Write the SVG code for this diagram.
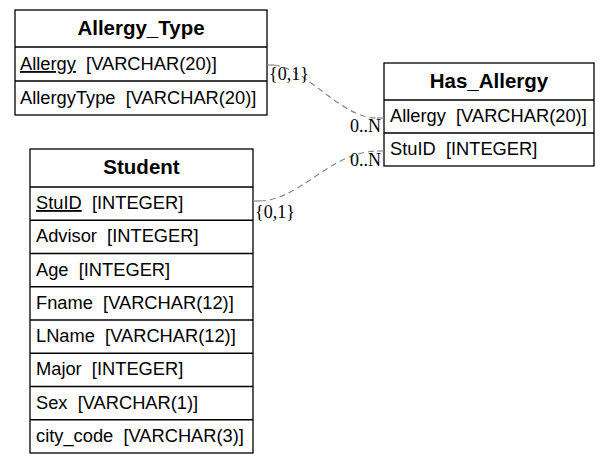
<svg xmlns="http://www.w3.org/2000/svg" width="612" height="464" viewBox="0 0 612 464">
<style>
.box{fill:#fff;stroke:#000;stroke-width:1.3}
.sep{stroke:#000;stroke-width:1.3}
.hdr{font-family:"Liberation Sans",Arial,sans-serif;font-weight:bold;font-size:20.5px;text-anchor:middle;fill:#000}
.row{font-family:"Liberation Sans",Arial,sans-serif;font-size:18.3px;fill:#000}
.pk{text-decoration:underline}
.edge{fill:none;stroke:#888;stroke-width:1.2;stroke-dasharray:6,4}
.tick{fill:none;stroke:#888;stroke-width:1.2}
.lbl{font-family:"Liberation Serif","Times New Roman",serif;font-size:18px;fill:#000}
</style>
<rect width="612" height="464" fill="#fff"/>
<g id="Allergy_Type">
<rect class="box" x="15" y="10" width="252" height="105"/>
<line class="sep" x1="15" y1="47" x2="267" y2="47"/>
<line class="sep" x1="15" y1="81" x2="267" y2="81"/>
<text class="hdr" x="141" y="35">Allergy_Type</text>
<text class="row" x="20" y="70" xml:space="preserve"><tspan class="pk">Allergy</tspan>  [VARCHAR(20)]</text>
<text class="row" x="20" y="104" xml:space="preserve">AllergyType  [VARCHAR(20)]</text>
</g>
<g id="Student">
<rect class="box" x="30" y="149" width="223" height="304"/>
<line class="sep" x1="30" y1="187" x2="253" y2="187"/>
<line class="sep" x1="30" y1="220.25" x2="253" y2="220.25"/>
<line class="sep" x1="30" y1="253.5" x2="253" y2="253.5"/>
<line class="sep" x1="30" y1="286.75" x2="253" y2="286.75"/>
<line class="sep" x1="30" y1="320" x2="253" y2="320"/>
<line class="sep" x1="30" y1="353.25" x2="253" y2="353.25"/>
<line class="sep" x1="30" y1="386.5" x2="253" y2="386.5"/>
<line class="sep" x1="30" y1="419.75" x2="253" y2="419.75"/>
<text class="hdr" x="141.5" y="174">Student</text>
<text class="row" x="36" y="209" xml:space="preserve"><tspan class="pk">StuID</tspan>  [INTEGER]</text>
<text class="row" x="36" y="242.25" xml:space="preserve">Advisor  [INTEGER]</text>
<text class="row" x="36" y="275.5" xml:space="preserve">Age  [INTEGER]</text>
<text class="row" x="36" y="308.75" xml:space="preserve">Fname  [VARCHAR(12)]</text>
<text class="row" x="36" y="342" xml:space="preserve">LName  [VARCHAR(12)]</text>
<text class="row" x="36" y="375.25" xml:space="preserve">Major  [INTEGER]</text>
<text class="row" x="36" y="408.5" xml:space="preserve">Sex  [VARCHAR(1)]</text>
<text class="row" x="36" y="441.75" xml:space="preserve">city_code  [VARCHAR(3)]</text>
</g>
<g id="Has_Allergy">
<rect class="box" x="384" y="63" width="210" height="103"/>
<line class="sep" x1="384" y1="100" x2="594" y2="100"/>
<line class="sep" x1="384" y1="133" x2="594" y2="133"/>
<text class="hdr" x="489" y="88">Has_Allergy</text>
<text class="row" x="390" y="122" xml:space="preserve">Allergy  [VARCHAR(20)]</text>
<text class="row" x="390" y="155" xml:space="preserve">StuID  [INTEGER]</text>
</g>
<g id="connectors">
<line class="tick" x1="267" y1="65" x2="274" y2="65"/>
<path class="edge" d="M274,65 C310,70 340,118 377,118"/>
<line class="tick" x1="377" y1="118" x2="384" y2="118"/>
<text class="lbl" x="269" y="80">{0,1}</text>
<text class="lbl" x="350" y="132">0..N</text>
<line class="tick" x1="253" y1="201" x2="260" y2="201"/>
<path class="edge" d="M260,201 C300,200 330,152 377,151"/>
<line class="tick" x1="377" y1="151" x2="384" y2="151"/>
<text class="lbl" x="255" y="218">{0,1}</text>
<text class="lbl" x="350" y="166">0..N</text>
</g>
</svg>
